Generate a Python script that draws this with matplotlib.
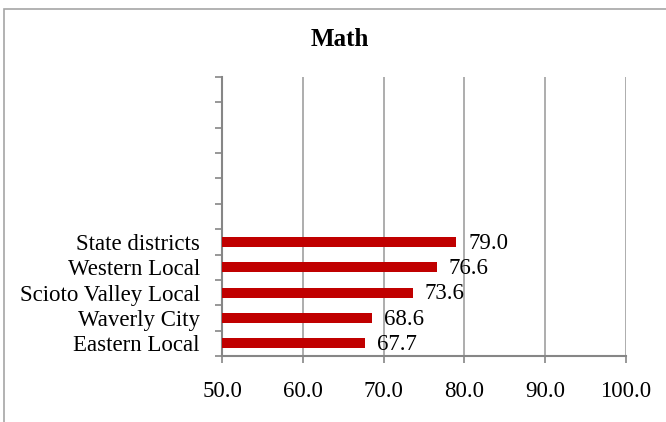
import matplotlib
matplotlib.use("Agg")
import matplotlib.pyplot as plt
from matplotlib.patches import Rectangle
import numpy as np

categories = ["Eastern Local", "Waverly City", "Scioto Valley Local", "Western Local", "State districts"]
values = [67.7, 68.6, 73.6, 76.6, 79.0]
xticks = [50.0, 60.0, 70.0, 80.0, 90.0, 100.0]
n_slots = 11

plt.rcParams['font.family'] = ['Liberation Serif', 'DejaVu Serif']

fig = plt.figure(figsize=(6.66, 4.22), dpi=100)
ax = fig.add_axes([222/666, 1-356/422, (626-222)/666, (356-77)/422])

# outer chart border (only top and left visible)
fig.patches.append(Rectangle((4/666, -0.1), 1.2, 1 - 9/422 + 0.1, transform=fig.transFigure,
                             fill=False, edgecolor='#a6a6a6', linewidth=1.2))

y = np.arange(len(categories))
ax.barh(y, [v - 50 for v in values], left=50, height=0.4, color='#c00000', zorder=3)
for yi, v in zip(y, values):
    ax.text(v + 1.45, yi - 0.05, f"{v:.1f}", va='center', ha='left', fontsize=16.5, color='black')

ax.set_xlim(50, 100)
ax.set_ylim(-0.5, n_slots - 0.5)
ax.set_xticks(xticks)
ax.set_xticklabels([f"{t:.1f}" for t in xticks], fontsize=16.5)
ax.set_yticks(y)
ax.set_yticklabels(categories, fontsize=16.5)
ax.set_yticks(np.arange(-0.5, n_slots, 1.0), minor=True)
ax.tick_params(axis='y', which='major', length=0, pad=16)
ax.tick_params(axis='y', which='minor', length=5, width=1.2, color='#868686', direction='out')
ax.tick_params(axis='x', which='major', length=5, width=1.2, color='#868686', direction='out', pad=13)

ax.grid(axis='x', color='#a0a0a0', linewidth=1.2, zorder=0)
ax.set_axisbelow(True)
for s in ['top', 'right']:
    ax.spines[s].set_visible(False)
for s in ['left', 'bottom']:
    ax.spines[s].set_color('#868686')
    ax.spines[s].set_linewidth(1.5)

fig.text(340/666, 1-40/422, "Math", ha='center', va='center', fontsize=18, fontweight='bold')

fig.savefig("out.png", dpi=100)
